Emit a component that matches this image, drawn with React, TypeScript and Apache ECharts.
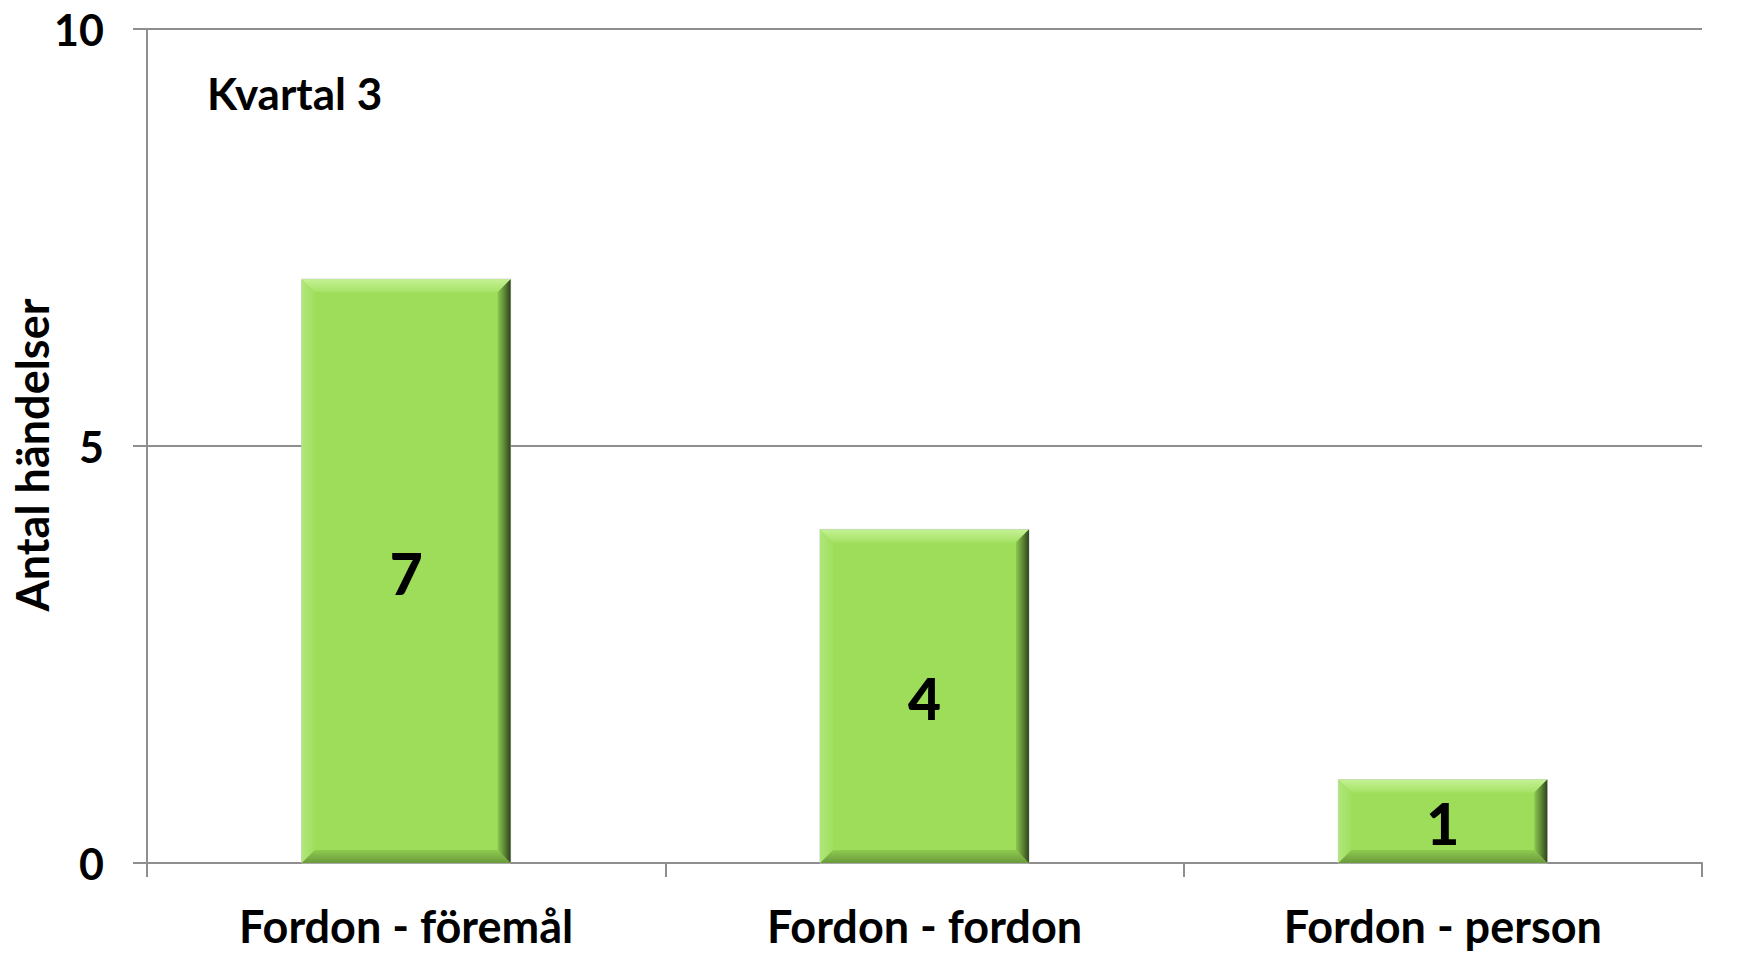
import React, { useEffect, useRef } from "react";
import * as echarts from "echarts";

const categories = ["Fordon - föremål", "Fordon - fordon", "Fordon - person"];
const values = [7, 4, 1];
const yTicks = [0, 5, 10];
const chartTitle = "Kvartal 3";
const yAxisName = "Antal händelser";

const FONT = "Lato, 'Open Sans', sans-serif";
const GRID_COLOR = "#8e8e8e";

export default function App() {
  const ref = useRef<HTMLDivElement>(null);
  useEffect(() => {
    if (!ref.current) return;
    const chart = echarts.init(ref.current, null, { renderer: "svg" });
    const option: any = {
      animation: false,
      backgroundColor: "#ffffff",
      textStyle: { fontFamily: FONT },
      grid: {
        left: 147,
        right: 59,
        top: 29,
        bottom: 116,
        containLabel: false,
        outerBoundsMode: "none",
      },
      graphic: [
        {
          type: "text",
          left: 207,
          top: 71,
          style: { text: chartTitle, font: `bold 44px ${FONT}`, fill: "#000" },
        },
        {
          type: "text",
          x: 32,
          y: 455,
          rotation: Math.PI / 2,
          style: {
            text: yAxisName,
            font: `bold 45px ${FONT}`,
            fill: "#000",
            align: "center",
            verticalAlign: "middle",
          },
        },
      ],
      xAxis: {
        type: "category",
        data: categories,
        boundaryGap: true,
        axisLine: { show: true, lineStyle: { color: GRID_COLOR, width: 2 } },
        axisTick: { show: true, length: 14, alignWithLabel: false, lineStyle: { color: GRID_COLOR, width: 2 } },
        axisLabel: {
          interval: 0,
          margin: 40,
          fontSize: 45,
          lineHeight: 45,
          fontWeight: "bold",
          color: "#000",
          fontFamily: FONT,
        },
        splitLine: { show: false },
      },
      yAxis: {
        type: "value",
        min: yTicks[0],
        max: yTicks[yTicks.length - 1],
        interval: yTicks[1] - yTicks[0],
        axisLine: { show: true, lineStyle: { color: GRID_COLOR, width: 2 } },
        axisTick: { show: true, length: 14, lineStyle: { color: GRID_COLOR, width: 2 } },
        axisLabel: { margin: 43, fontSize: 43, fontWeight: "bold", color: "#000", fontFamily: FONT },
        splitLine: { show: true, lineStyle: { color: GRID_COLOR, width: 2 } },
      },
      series: [
        {
          type: "custom",
          data: values.map((v, i) => [i, v]),
          encode: { x: 0, y: 1 },
          renderItem: (params: any, api: any) => {
            const idx = api.value(0);
            const val = api.value(1);
            const top = api.coord([idx, val]);
            const base = api.coord([idx, 0]);
            const bw = api.size([1, 0])[0] * 0.403;
            const x0 = top[0] - bw / 2;
            const x1 = top[0] + bw / 2;
            const y0 = top[1];
            const y1 = base[1];
            const b = 13;
            return {
              type: "group",
              children: [
                {
                  type: "rect",
                  shape: { x: x0, y: y0, width: bw, height: y1 - y0 },
                  style: { fill: "#9ddd5a", stroke: "#c8c8c8", lineWidth: 1 },
                },
                {
                  type: "polygon",
                  shape: { points: [[x0, y0], [x1, y0], [x1 - b, y0 + b], [x0 + b, y0 + b]] },
                  style: {
                    fill: new echarts.graphic.LinearGradient(0, 0, 0, 1, [
                      { offset: 0, color: "#c4f294" },
                      { offset: 1, color: "#a6e266" },
                    ]),
                  },
                },
                {
                  type: "polygon",
                  shape: { points: [[x0, y0], [x0 + b, y0 + b], [x0 + b, y1 - b], [x0, y1]] },
                  style: {
                    fill: new echarts.graphic.LinearGradient(0, 0, 1, 0, [
                      { offset: 0, color: "#b0e77a" },
                      { offset: 1, color: "#a0df5e" },
                    ]),
                  },
                },
                {
                  type: "polygon",
                  shape: { points: [[x0, y1], [x1, y1], [x1 - b, y1 - b], [x0 + b, y1 - b]] },
                  style: {
                    fill: new echarts.graphic.LinearGradient(0, 0, 0, 1, [
                      { offset: 0, color: "#8fcb50" },
                      { offset: 1, color: "#6a9a3c" },
                    ]),
                  },
                },
                {
                  type: "polygon",
                  shape: { points: [[x1, y0], [x1, y1], [x1 - b, y1 - b], [x1 - b, y0 + b]] },
                  style: {
                    fill: new echarts.graphic.LinearGradient(0, 0, 1, 0, [
                      { offset: 0, color: "#8cc84f" },
                      { offset: 0.5, color: "#5f8a37" },
                      { offset: 1, color: "#2f421c" },
                    ]),
                  },
                },
                {
                  type: "text",
                  style: {
                    x: top[0],
                    y: (y0 + y1) / 2 + 2,
                    text: String(val),
                    font: `900 57px ${FONT}`,
                    fill: "#000",
                    align: "center",
                    verticalAlign: "middle",
                  },
                },
              ],
            };
          },
        },
      ],
    };
    chart.setOption(option);
    return () => chart.dispose();
  }, []);
  return (
    <div
      ref={ref}
      style={{ position: "absolute", left: 0, top: 0, width: 1761, height: 979 }}
    />
  );
}
